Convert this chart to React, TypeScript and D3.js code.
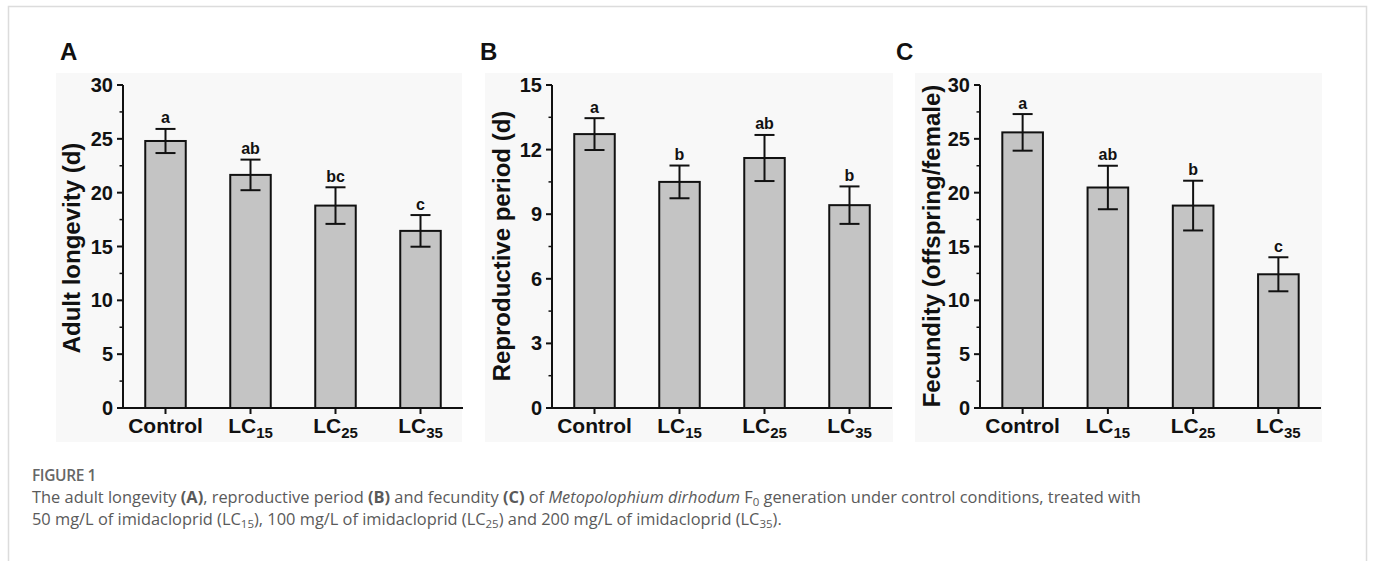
import React from "react";
import * as d3 from "d3";

const categories = ["Control", "LC15", "LC25", "LC35"];
const catMain = ["Control", "LC", "LC", "LC"];
const catSub = ["", "15", "25", "35"];

const longevityMean = [24.8, 21.65, 18.8, 16.45];
const longevityErr = [1.12, 1.42, 1.7, 1.47];
const longevityLetters = ["a", "ab", "bc", "c"];
const longevityTicks = [0, 5, 10, 15, 20, 25, 30];

const reproMean = [12.72, 10.5, 11.61, 9.42];
const reproErr = [0.74, 0.76, 1.07, 0.87];
const reproLetters = ["a", "b", "ab", "b"];
const reproTicks = [0, 3, 6, 9, 12, 15];

const fecundMean = [25.6, 20.48, 18.8, 12.42];
const fecundErr = [1.7, 2.02, 2.31, 1.58];
const fecundLetters = ["a", "ab", "b", "c"];
const fecundTicks = [0, 5, 10, 15, 20, 25, 30];

const FONT = "'Liberation Sans', Arial, Helvetica, sans-serif";

type PanelProps = {
  label: string;
  title: string;
  means: number[];
  errs: number[];
  letters: string[];
  ticks: number[];
  x0: number;
  x1: number;
  bgX0: number;
  bgX1: number;
  labelX: number;
  titleX: number;
  titleY: number;
};

function Panel(p: PanelProps) {
  const yTop = 85;
  const yBot = 408;
  const maxV = p.ticks[p.ticks.length - 1];
  const y = d3.scaleLinear().domain([0, maxV]).range([yBot, yTop]);
  const x = d3
    .scaleBand<string>()
    .domain(categories)
    .range([p.x0, p.x1])
    .paddingInner(0.5)
    .paddingOuter(0.25);
  const step = p.ticks[1] - p.ticks[0];
  const minor = p.ticks.slice(0, -1).map((t) => t + step / 2);
  const bw = x.bandwidth();
  return (
    <g>
      <rect x={p.bgX0} y={73} width={p.bgX1 - p.bgX0} height={369} fill="#f8f8f8" />
      <text x={p.labelX} y={60} fontFamily={FONT} fontWeight="bold" fontSize={24} fill="#111">
        {p.label}
      </text>
      <text
        transform={`translate(${p.titleX},${p.titleY}) rotate(-90)`}
        textAnchor="middle"
        fontFamily={FONT}
        fontWeight="bold"
        fontSize={24}
        fill="#111"
      >
        {p.title}
      </text>
      {categories.map((c, i) => {
        const cx = (x(c) as number) + bw / 2;
        const top = y(p.means[i]);
        const eHi = y(p.means[i] + p.errs[i]);
        const eLo = y(p.means[i] - p.errs[i]);
        return (
          <g key={c}>
            <rect
              x={cx - bw / 2 + 1}
              y={top}
              width={bw - 2}
              height={yBot - top}
              fill="#c4c4c4"
              stroke="#111"
              strokeWidth={2}
            />
            <line x1={cx} x2={cx} y1={eHi} y2={eLo} stroke="#111" strokeWidth={2} />
            <line x1={cx - 10} x2={cx + 10} y1={eHi} y2={eHi} stroke="#111" strokeWidth={2} />
            <line x1={cx - 10} x2={cx + 10} y1={eLo} y2={eLo} stroke="#111" strokeWidth={2} />
            <text
              x={cx}
              y={eHi - 5.5}
              textAnchor="middle"
              fontFamily={FONT}
              fontWeight="bold"
              fontSize={16}
              fill="#111"
            >
              {p.letters[i]}
            </text>
            <line x1={cx} x2={cx} y1={yBot} y2={yBot + 6} stroke="#111" strokeWidth={2} />
            <text
              x={cx}
              y={433}
              textAnchor="middle"
              fontFamily={FONT}
              fontWeight="bold"
              fontSize={21}
              fill="#111"
            >
              <tspan>{catMain[i]}</tspan>
              {catSub[i] ? (
                <tspan dy={5} fontSize={15}>
                  {catSub[i]}
                </tspan>
              ) : null}
            </text>
          </g>
        );
      })}
      {p.ticks.map((t) => (
        <g key={t}>
          <line x1={p.x0 - 6} x2={p.x0} y1={y(t)} y2={y(t)} stroke="#111" strokeWidth={2} />
          <text
            x={p.x0 - 10}
            y={y(t) + 7}
            textAnchor="end"
            fontFamily={FONT}
            fontWeight="bold"
            fontSize={20}
            fill="#111"
          >
            {t}
          </text>
        </g>
      ))}
      {minor.map((t) => (
        <line key={t} x1={p.x0 - 3.5} x2={p.x0} y1={y(t)} y2={y(t)} stroke="#111" strokeWidth={1.5} />
      ))}
      <line x1={p.x0} x2={p.x0} y1={yTop} y2={yBot + 1} stroke="#111" strokeWidth={2} />
      <line x1={p.x0 - 1} x2={p.x1} y1={yBot} y2={yBot} stroke="#111" strokeWidth={2} />
    </g>
  );
}

export default function App() {
  const capFont = "'Open Sans', 'Noto Sans', sans-serif";
  return (
    <svg
      width={1375}
      height={561}
      style={{ position: "absolute", left: 0, top: 0, background: "#fff" }}
    >
      <rect x={8.5} y={6.5} width={1358} height={600} fill="#fff" stroke="#dcdcdc" strokeWidth={1.5} />
      <rect x={65} y={420} width={397} height={18} fill="#fff" />
      <Panel
        label="A"
        title="Adult longevity (d)"
        means={longevityMean}
        errs={longevityErr}
        letters={longevityLetters}
        ticks={longevityTicks}
        x0={123}
        x1={463}
        bgX0={56}
        bgX1={462}
        labelX={60}
        titleX={80}
        titleY={248}
      />
      <Panel
        label="B"
        title="Reproductive period (d)"
        means={reproMean}
        errs={reproErr}
        letters={reproLetters}
        ticks={reproTicks}
        x0={552}
        x1={892}
        bgX0={485}
        bgX1={893}
        labelX={480}
        titleX={510}
        titleY={246}
      />
      <Panel
        label="C"
        title="Fecundity (offspring/female)"
        means={fecundMean}
        errs={fecundErr}
        letters={fecundLetters}
        ticks={fecundTicks}
        x0={980}
        x1={1321}
        bgX0={915}
        bgX1={1322}
        labelX={896}
        titleX={940}
        titleY={246}
      />
      <text x={32} y={481} fontFamily={capFont} fontSize={15.5} fontWeight={600} fill="#666" letterSpacing={-0.4}>
        FIGURE 1
      </text>
      <text x={32} y={503} fontFamily={capFont} fontSize={16.4} fill="#5a5a5a">
        <tspan>The adult longevity </tspan>
        <tspan fontWeight="bold">(A)</tspan>
        <tspan>, reproductive period </tspan>
        <tspan fontWeight="bold">(B)</tspan>
        <tspan> and fecundity </tspan>
        <tspan fontWeight="bold">(C)</tspan>
        <tspan> of </tspan>
        <tspan fontStyle="italic">Metopolophium dirhodum</tspan>
        <tspan> F</tspan>
        <tspan fontSize={11.5} dy={2.5}>0</tspan>
        <tspan dy={-2.5}> generation under control conditions, treated with</tspan>
      </text>
      <text x={32} y={525} fontFamily={capFont} fontSize={16.4} fill="#5a5a5a">
        <tspan>50 mg/L of imidacloprid (LC</tspan>
        <tspan fontSize={11.5} dy={2.5}>15</tspan>
        <tspan dy={-2.5}>), 100 mg/L of imidacloprid (LC</tspan>
        <tspan fontSize={11.5} dy={2.5}>25</tspan>
        <tspan dy={-2.5}>) and 200 mg/L of imidacloprid (LC</tspan>
        <tspan fontSize={11.5} dy={2.5}>35</tspan>
        <tspan dy={-2.5}>).</tspan>
      </text>
    </svg>
  );
}
